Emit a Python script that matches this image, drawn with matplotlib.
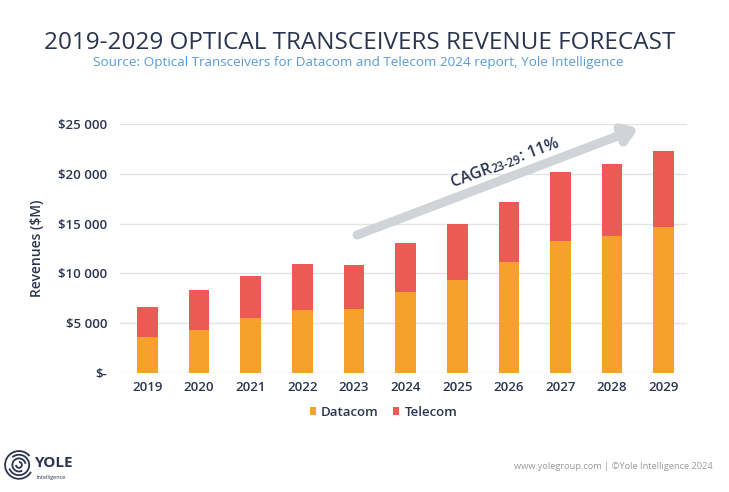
import numpy as np
import matplotlib.pyplot as plt
from matplotlib.patches import Arc

plt.rcParams['font.family'] = ['Open Sans', 'DejaVu Sans']

years = ['2019', '2020', '2021', '2022', '2023', '2024', '2025', '2026', '2027', '2028', '2029']
datacom = [3560, 4270, 5470, 6310, 6410, 8090, 9360, 11140, 13280, 13750, 14660]
total = [6580, 8290, 9730, 10970, 10840, 13080, 14930, 17200, 20160, 21000, 22270]
telecom = [t - d for t, d in zip(total, datacom)]
yticks = [0, 5000, 10000, 15000, 20000, 25000]
ytick_labels = ['$-', '$5 000', '$10 000', '$15 000', '$20 000', '$25 000']

navy = '#2a3550'
c_data = '#f5a12c'
c_tele = '#ec5a56'

fig = plt.figure(figsize=(7.29, 4.92), dpi=100)
ax = fig.add_axes([0.1646, 0.2425, 0.7778, 0.5051])

x = np.arange(len(years))
ax.bar(x, datacom, width=0.4, color=c_data, label='Datacom', zorder=3)
ax.bar(x, telecom, width=0.4, bottom=datacom, color=c_tele, label='Telecom', zorder=3)

ax.set_xlim(-0.53, 10.45)
ax.set_ylim(0, 25000)
ax.set_yticks(yticks)
ax.set_yticklabels(ytick_labels)
ax.set_xticks(x)
ax.set_xticklabels(years)
ax.grid(axis='y', color='#e3e3e3', linewidth=1, zorder=0)
for s in ax.spines.values():
    s.set_visible(False)
ax.tick_params(length=0, colors=navy, labelsize=9.5, pad=6)
for lab in ax.get_xticklabels() + ax.get_yticklabels():
    lab.set_fontweight('semibold')
ax.tick_params(axis='y', pad=9)
ax.set_ylabel('Revenues ($M)', color=navy, fontsize=10, fontweight='semibold', labelpad=10)

# CAGR arrow
ax.annotate('', xy=(9.51, 24600), xytext=(4.06, 13850),
            arrowprops=dict(arrowstyle='-|>,head_length=0.8,head_width=0.55',
                            color='#d0d3d7', lw=6.5, shrinkA=0, shrinkB=0), zorder=4)

# CAGR label in three pieces (small "23-29" on the baseline)
ang = 20.5
ca, sa = np.cos(np.radians(ang)), np.sin(np.radians(ang))
r = fig.canvas.get_renderer()
tmp = fig.text(0, 0, '23-29', fontsize=8.5, fontweight='semibold')
w_sub = tmp.get_window_extent(r).width * 72 / fig.dpi
tmp.remove()
anchor = (6.68, 20200)
kw = dict(rotation=ang, rotation_mode='anchor', va='baseline', color=navy,
          fontweight='semibold', zorder=5, textcoords='offset points', xycoords='data')
ax.annotate('CAGR', anchor, xytext=(0, 0), ha='right', fontsize=11.5, **kw)
ax.annotate('23-29', anchor, xytext=(0.5 * ca + 1.0 * sa, 0.5 * sa - 1.0 * ca),
            ha='left', fontsize=8.5, **kw)
d = w_sub + 0.8
ax.annotate(': 11%', anchor, xytext=(d * ca, d * sa), ha='left', fontsize=11.5, **kw)

leg = ax.legend(loc='upper center', bbox_to_anchor=(0.465, -0.085), ncol=2, frameon=False,
                handlelength=0.45, handleheight=0.45, handletextpad=0.4, columnspacing=1.1,
                fontsize=9.5)
for t in leg.get_texts():
    t.set_color(navy)
    t.set_fontweight('semibold')

fig.text(0.493, 0.912, '2019-2029 OPTICAL TRANSCEIVERS REVENUE FORECAST', ha='center',
         va='center', fontsize=17.5, color=navy)
fig.text(0.491, 0.872, 'Source: Optical Transceivers for Datacom and Telecom 2024 report, Yole Intelligence',
         ha='center', va='center', fontsize=9.7, color='#5b9bd5')

fig.text(0.978, 0.052, 'www.yolegroup.com | ©Yole Intelligence 2024', ha='right', va='center',
         fontsize=6.7, color='#9a9a9a')

# logo
lax = fig.add_axes([0.006, 0.025, 0.04, 0.06])
lax.set_xlim(-1, 1)
lax.set_ylim(-1, 1)
lax.set_aspect('equal')
lax.axis('off')
for rr, a0, a1 in [(0.95, 40, 330), (0.7, 200, 130), (0.45, 10, 300), (0.2, 180, 90)]:
    lax.add_patch(Arc((0, 0), 2 * rr, 2 * rr, theta1=a0, theta2=a1, color=navy, lw=1.3))
fig.text(0.048, 0.058, 'YOLE', fontsize=11, fontweight='bold', color=navy, va='center')
fig.text(0.05, 0.03, 'Intelligence', fontsize=4, color=navy, va='center')

fig.savefig('out.png', dpi=100)
